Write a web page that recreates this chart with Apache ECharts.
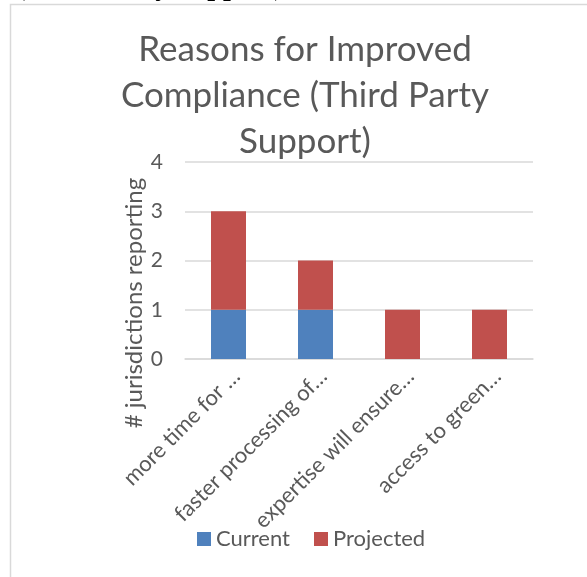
<!DOCTYPE html>
<html>
<head>
<meta charset="utf-8">
<script src="https://cdn.jsdelivr.net/npm/echarts@6/dist/echarts.min.js"></script>
<style>
  html, body { margin: 0; padding: 0; background: #fff; }
  #chart { width: 587px; height: 577px; }
</style>
</head>
<body>
<div id="chart"></div>
<script>
// 数据
const categories = ["more time for …", "faster processing of…", "expertise will ensure…", "access to green…"];
const currentValues = [1, 1, 0, 0];
const projectedValues = [2, 1, 1, 1];
const yTicks = [0, 1, 2, 3, 4];

const FONT = "Lato";
const TEXT_COLOR = "#595959";

const chart = echarts.init(document.getElementById("chart"));

const option = {
  backgroundColor: "#ffffff",
  animation: false,
  textStyle: { fontFamily: FONT, color: TEXT_COLOR },
  title: {
    text: "Reasons for Improved\nCompliance (Third Party\nSupport)",
    left: 300,
    textAlign: "center",
    top: 22,
    textStyle: {
      fontFamily: FONT,
      fontWeight: "normal",
      fontSize: 35,
      lineHeight: 46,
      color: TEXT_COLOR,
    },
  },
  graphic: [
    // 外框（只看得到左边和上边）
    {
      type: "rect",
      shape: { x: 10.5, y: 4.5, width: 700, height: 700 },
      style: { fill: null, stroke: "#d9d9d9", lineWidth: 1.5 },
      silent: true,
    },
    // 页面上被裁掉的标题
    {
      type: "text",
      left: 16,
      top: -26,
      style: {
        text: "(Third Party Support)",
        font: "bold 28px 'Liberation Serif'",
        fill: "#000",
      },
      silent: true,
    },
    // y 轴名称
    {
      type: "text",
      x: 134,
      y: 303,
      rotation: Math.PI / 2,
      style: {
        text: "# jurisdictions reporting",
        font: "24px " + FONT,
        fill: TEXT_COLOR,
        align: "center",
        verticalAlign: "middle",
      },
      silent: true,
    },
  ],
  legend: {
    bottom: 22,
    left: 192,
    itemWidth: 14,
    itemHeight: 14,
    itemGap: 24,
    icon: "rect",
    textStyle: { fontFamily: FONT, fontSize: 22, color: TEXT_COLOR },
    data: ["Current", "Projected"],
  },
  grid: {
    left: 185,
    right: 54,
    top: 162,
    bottom: 218,
  },
  xAxis: {
    type: "category",
    data: categories,
    axisLine: { lineStyle: { color: "#d9d9d9", width: 1.5 } },
    axisTick: { show: false },
    axisLabel: {
      rotate: 45,
      interval: 0,
      margin: 6,
      verticalAlign: "top",
      fontSize: 22,
      fontFamily: FONT,
      color: TEXT_COLOR,
    },
  },
  yAxis: {
    type: "value",
    min: yTicks[0],
    max: yTicks[yTicks.length - 1],
    interval: 1,
    axisLine: { show: false },
    axisTick: { show: false },
    axisLabel: { fontSize: 21, fontFamily: FONT, color: TEXT_COLOR, margin: 22 },
    splitLine: { lineStyle: { color: "#d9d9d9", width: 1.5 } },
  },
  series: [
    {
      name: "Current",
      type: "bar",
      stack: "total",
      barWidth: 35,
      itemStyle: { color: "#4f81bd" },
      data: currentValues,
    },
    {
      name: "Projected",
      type: "bar",
      stack: "total",
      barWidth: 35,
      itemStyle: { color: "#c0504d" },
      data: projectedValues,
    },
  ],
};

chart.setOption(option);
</script>
</body>
</html>
